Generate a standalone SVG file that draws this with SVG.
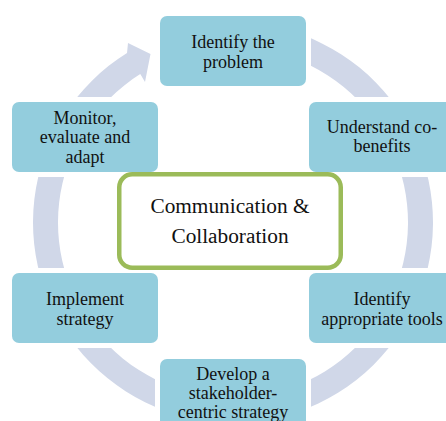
<svg xmlns="http://www.w3.org/2000/svg" width="446" height="421" viewBox="0 0 446 421">
  <style>
    .box { fill: #93CDDD; }
    .halo { fill: #FFFFFF; }
    .t { font-family: "Liberation Serif", "Times New Roman", serif; font-size: 18px; fill: #111111; text-anchor: middle; }
    .tc { font-family: "Liberation Serif", "Times New Roman", serif; font-size: 21.3px; fill: #111111; text-anchor: middle; }
  </style>
  <rect x="0" y="0" width="446" height="421" fill="#FFFFFF"/>
  <g id="connectors">
    <path d="M 301.4,34.56 A 200 200 0 1 1 127.02,52.89 L 128,43 L 150.5,54 L 145,82 L 140.26,74.09 A 175 175 0 1 0 292.85,58.05 Z" fill="#D0D7E8"/>
  </g>
  <g id="halos">
    <rect class="halo" x="155" y="11" width="156" height="80" rx="10"/>
    <rect class="halo" x="304" y="97" width="156" height="80" rx="10"/>
    <rect class="halo" x="304" y="268" width="156" height="80" rx="10"/>
    <rect class="halo" x="155" y="354" width="156" height="80" rx="10"/>
    <rect class="halo" x="7" y="268" width="156" height="80" rx="10"/>
    <rect class="halo" x="7" y="97" width="156" height="80" rx="10"/>
  </g>
  <g id="n1">
    <rect class="box" x="160" y="16" width="146" height="70" rx="7"/>
    <text class="t" x="233" y="47.5">Identify the</text>
    <text class="t" x="233" y="67.5">problem</text>
  </g>
  <g id="n2">
    <rect class="box" x="309" y="102" width="146" height="70" rx="7"/>
    <text class="t" x="382" y="132.5">Understand co-</text>
    <text class="t" x="382" y="152">benefits</text>
  </g>
  <g id="n3">
    <rect class="box" x="309" y="273" width="146" height="70" rx="7"/>
    <text class="t" x="382" y="305">Identify</text>
    <text class="t" x="382" y="324.5">appropriate tools</text>
  </g>
  <g id="n4">
    <rect class="box" x="160" y="359" width="146" height="70" rx="7"/>
    <text class="t" x="233" y="380">Develop a</text>
    <text class="t" x="233" y="399">stakeholder-</text>
    <text class="t" x="233" y="418">centric strategy</text>
  </g>
  <g id="n5">
    <rect class="box" x="12" y="273" width="146" height="70" rx="7"/>
    <text class="t" x="85" y="305">Implement</text>
    <text class="t" x="85" y="324.5">strategy</text>
  </g>
  <g id="n6">
    <rect class="box" x="12" y="102" width="146" height="70" rx="7"/>
    <text class="t" x="85" y="123.5">Monitor,</text>
    <text class="t" x="85" y="143">evaluate and</text>
    <text class="t" x="85" y="162.5">adapt</text>
  </g>
  <g id="center">
    <rect x="119.25" y="174.25" width="221.5" height="93.5" rx="13" fill="#FFFFFF" stroke="#9BBB59" stroke-width="4.5"/>
    <text class="tc" x="230" y="212.7">Communication &amp;</text>
    <text class="tc" x="230" y="243.3">Collaboration</text>
  </g>
</svg>
